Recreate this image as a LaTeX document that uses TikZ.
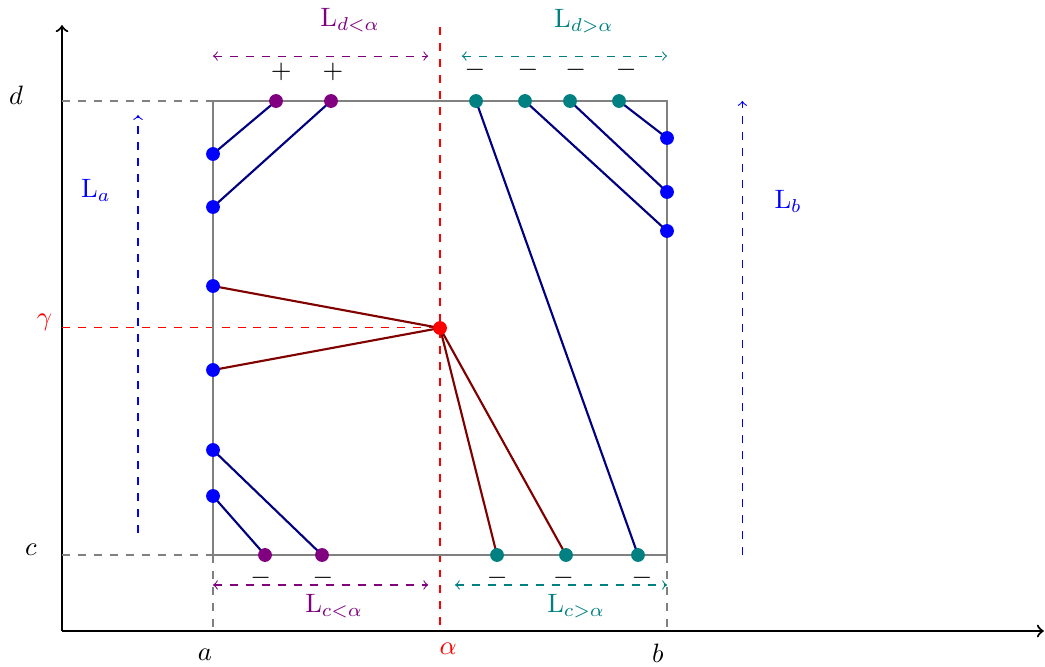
\documentclass[tikz,border=0pt]{standalone}
\definecolor{navyline}{RGB}{0,0,128}
\definecolor{maroonline}{RGB}{128,0,0}
\definecolor{plum}{RGB}{128,0,128}
\definecolor{sea}{RGB}{0,128,128}
\tikzset{
  guide/.style={dashed, gray},
  span/.style={dashed, <->},
  dot/.style={circle, fill, inner sep=0pt, minimum size=5.2pt},
  chord/.style={thick, navyline},
  ray/.style={thick, maroonline},
}
\begin{document}
\begin{tikzpicture}[x=0.6cm, y=0.6cm]
  \useasboundingbox (-4.692,-2.445) rectangle (18.326,12.225);
  % Axes
  \coordinate (O) at (-3.326,-1.674);
  \draw[thick, ->] (O) -- (18.3,-1.674);
  \draw[thick, ->] (O) -- (-3.326,11.67);
  % Guides to the axes
  \draw[guide] (-3.326,10) -- (0,10);
  \draw[guide] (-3.326,0) -- (0,0);
  \draw[guide] (0,0) -- (0,-1.674);
  \draw[guide] (10,0) -- (10,-1.674);
  \draw[dashed, red] (5,11.63) -- (5,-1.674);
  \draw[dashed, red] (-3.326,5.007) -- (5,5.007);
  % Rectangle [a,b] x [c,d]
  \draw[line width=1pt, gray] (0,0) rectangle (10,10);
  % Points on the boundary
  \coordinate (L1) at (0,8.833);
  \coordinate (L2) at (0,7.665);
  \coordinate (L3) at (0,5.925);
  \coordinate (L4) at (0,4.075);
  \coordinate (L5) at (0,2.313);
  \coordinate (L6) at (0,1.300);
  \coordinate (T1) at (1.388,10);
  \coordinate (T2) at (2.599,10);
  \coordinate (T3) at (5.793,10);
  \coordinate (T4) at (6.872,10);
  \coordinate (T5) at (7.863,10);
  \coordinate (T6) at (8.943,10);
  \coordinate (R1) at (10,9.185);
  \coordinate (R2) at (10,7.996);
  \coordinate (R3) at (10,7.137);
  \coordinate (B1) at (1.145,0);
  \coordinate (B2) at (2.401,0);
  \coordinate (B3) at (6.256,0);
  \coordinate (B4) at (7.775,0);
  \coordinate (B5) at (9.361,0);
  \coordinate (P) at (5,5);
  % Chords
  \draw[chord] (L1) -- (T1);
  \draw[chord] (L2) -- (T2);
  \draw[chord] (T3) -- (B5);
  \draw[chord] (T4) -- (R3);
  \draw[chord] (T5) -- (R2);
  \draw[chord] (T6) -- (R1);
  \draw[chord] (L5) -- (B2);
  \draw[chord] (L6) -- (B1);
  % Rays through the point (alpha, gamma)
  \draw[ray] (L3) -- (P);
  \draw[ray] (L4) -- (P);
  \draw[ray] (P) -- (B3);
  \draw[ray] (P) -- (B4);
  % Dots
  \foreach \p in {L1,L2,L3,L4,L5,L6,R1,R2,R3}
    \node[dot, blue] at (\p) {};
  \foreach \p in {T1,T2,B1,B2}
    \node[dot, plum] at (\p) {};
  \foreach \p in {T3,T4,T5,T6,B3,B4,B5}
    \node[dot, sea] at (\p) {};
  \node[dot, red] at (P) {};
  % Signs
  \node (sT1) at (1.50,10.64) {$+$};
  \node (sT2) at (2.64,10.64) {$+$};
  \node (sT3) at (5.77,10.68) {$-$};
  \node (sT4) at (6.94,10.68) {$-$};
  \node (sT5) at (7.99,10.68) {$-$};
  \node (sT6) at (9.10,10.68) {$-$};
  \node (sB1) at (1.05,-0.50) {$-$};
  \node (sB2) at (2.42,-0.50) {$-$};
  \node (sB3) at (6.26,-0.50) {$-$};
  \node (sB4) at (7.72,-0.50) {$-$};
  \node (sB5) at (9.45,-0.50) {$-$};
  % Lengths
  \draw[span, plum] (0,10.99) -- (4.74,10.99);
  \draw[span, sea] (5.48,10.99) -- (10,10.99);
  \draw[span, plum] (0,-0.66) -- (4.74,-0.66);
  \draw[span, sea] (5.33,-0.66) -- (10,-0.66);
  \draw[dashed, blue, ->] (-1.652,0.485) -- (-1.652,9.69);
  \draw[dashed, blue, ->] (11.66,0) -- (11.66,10);
  \node[plum] (Ldl) at (3.02,11.78) {L$_{d<\alpha}$};
  \node[sea] (Ldg) at (8.17,11.75) {L$_{d>\alpha}$};
  \node[plum] (Lcl) at (2.67,-1.12) {L$_{c<\alpha}$};
  \node[sea] (Lcg) at (8.00,-1.12) {L$_{c>\alpha}$};
  \node[blue] (La) at (-2.58,8.02) {L$_a$};
  \node[blue] (Lb) at (12.67,7.78) {L$_b$};
  % Labels
  \node (ld) at (-4.34,10.13) {$d$};
  \node (lc) at (-4.01,0.11) {$c$};
  \node[red] (lg) at (-3.71,5.13) {$\gamma$};
  \node (la) at (-0.18,-2.20) {$a$};
  \node[red] (lal) at (5.18,-2.07) {$\alpha$};
  \node (lb) at (9.80,-2.16) {$b$};
\end{tikzpicture}
\end{document}
